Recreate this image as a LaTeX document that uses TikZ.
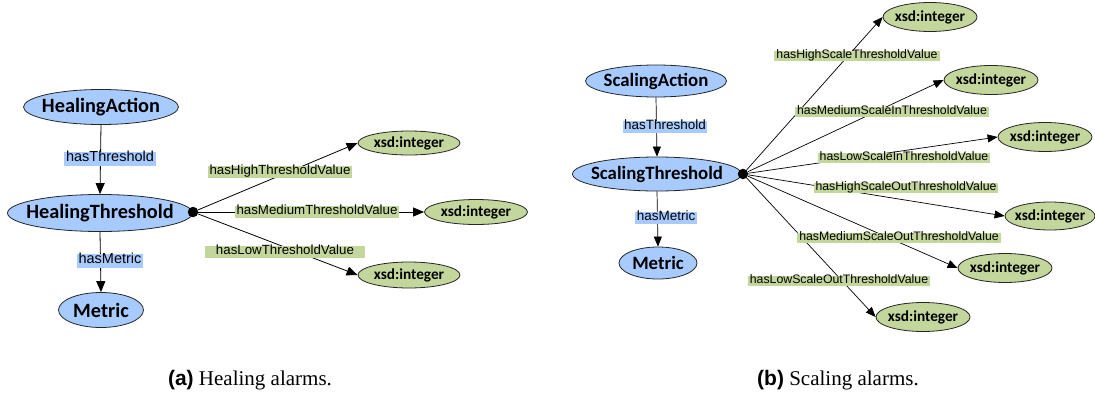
\documentclass[tikz,border=0pt]{standalone}
\usepackage{fontspec}
\setmainfont{Liberation Serif}
\newfontfamily\nfont{Carlito}
\newfontfamily\lfont{Liberation Sans}
\usetikzlibrary{shapes.geometric,arrows.meta}
\definecolor{nodeblue}{RGB}{168,203,255}
\definecolor{litgreen}{RGB}{195,214,155}
\definecolor{lblblue}{RGB}{168,203,255}
\newcommand\zw[1]{\makebox[0pt]{#1}}
\tikzset{
  cls/.style 2 args={ellipse, draw=black!85, line width=0.8pt, fill=nodeblue, inner sep=0pt,
    minimum width=#1, minimum height=#2},
  lit/.style 2 args={ellipse, draw=black!85, line width=0.8pt, fill=litgreen, inner sep=0pt,
    minimum width=#1, minimum height=#2, font=\nfont\bfseries\fontsize{15.3}{15.3}\selectfont},
  bigfont/.style={font=\nfont\bfseries\fontsize{20.3}{20.3}\selectfont},
  midfont/.style={font=\nfont\bfseries\fontsize{18.8}{18.8}\selectfont},
  lblA/.style={fill=lblblue, inner xsep=2pt, inner ysep=2pt, text height=0.72em, text depth=0.2em,
    font=\lfont\fontsize{14.5}{14.5}\selectfont},
  lblAg/.style={fill=litgreen, inner xsep=2pt, inner ysep=1.5pt, text height=0.72em, text depth=0.2em,
    font=\lfont\fontsize{13.3}{13.3}\selectfont},
  lblB/.style={fill=lblblue, inner xsep=1.5pt, inner ysep=1pt, text height=0.72em, text depth=0.2em,
    font=\lfont\fontsize{13.5}{13.5}\selectfont},
  lblBg/.style={fill=litgreen, inner xsep=2pt, inner ysep=0.8pt, text height=0.72em, text depth=0.2em,
    font=\lfont\fontsize{12.3}{12.3}\selectfont},
  blackdot/.style={circle, fill=black, inner sep=0pt, minimum size=10.5pt},
  arA/.style={-{Triangle[length=11pt,width=9pt]}, line width=0.8pt},
  arB/.style={-{Triangle[length=10pt,width=8pt]}, line width=0.7pt},
  captext/.style={font=\fontsize{21}{21}\selectfont}
}
\begin{document}
\begin{tikzpicture}[x=1pt,y=-1pt]
\useasboundingbox (0,0) rectangle (1095,394);
% ---------------- (a) ----------------
\node[cls={155pt}{35pt}, bigfont] (HA) at (101,107) {\zw{HealingAction}};
\node[cls={185pt}{37pt}, bigfont] (HT) at (100,213) {\zw{HealingThreshold}};
\node[cls={85pt}{35pt}, bigfont] (HM) at (101,310) {\zw{Metric}};
\node[blackdot] (hd) at (193,212) {};
\node[lit={102pt}{24pt}] (hx1) at (409,143) {\zw{xsd:integer}};
\node[lit={103pt}{25pt}] (hx2) at (476,212) {\zw{xsd:integer}};
\node[lit={102pt}{26pt}] (hx3) at (409,275) {\zw{xsd:integer}};
\draw[arA] (HA.south) -- (HT.north);
\draw[arA] (HT.south) -- (HM.north);
\draw[arA] (hd) -- (hx1.west);
\draw[arA] (hd) -- (hx2.west);
\draw[arA] (hd) -- (hx3.west);
\node[lblA] (lhT) at (110,159) {hasThreshold};
\node[lblA] (lhM) at (110,261) {hasMetric};
\node[lblAg] (lh1) at (280,172) {hasHighThresholdValue};
\node[lblAg] (lh2) at (317,212) {hasMediumThresholdValue};
\node[lblAg, inner xsep=11pt] (lh3) at (285,252) {hasLowThresholdValue};
% ---------------- (b) ----------------
\node[cls={141pt}{32pt}, midfont] (SA) at (656,81) {\zw{ScalingAction}};
\node[cls={169pt}{34pt}, midfont] (ST) at (657,174) {\zw{ScalingThreshold}};
\node[cls={78pt}{32pt}, midfont] (SM) at (658,263) {\zw{Metric}};
\node[blackdot] (sd) at (743,174) {};
\node[lit={94pt}{29pt}] (sx1) at (930,17) {\zw{xsd:integer}};
\node[lit={94pt}{29pt}] (sx2) at (991,80) {\zw{xsd:integer}};
\node[lit={94pt}{29pt}] (sx3) at (1045,137) {\zw{xsd:integer}};
\node[lit={90pt}{28pt}] (sx4) at (1050,216) {\zw{xsd:integer}};
\node[lit={94pt}{29pt}] (sx5) at (1005,268) {\zw{xsd:integer}};
\node[lit={94pt}{29pt}] (sx6) at (923,317) {\zw{xsd:integer}};
\draw[arB] (SA.south) -- (ST.north);
\draw[arB] (ST.south) -- (SM.north);
\foreach \t in {sx1,sx2,sx3,sx4,sx5,sx6} \draw[arB] (sd) -- (\t.west);
\node[lblB] (lsT) at (665,127) {hasThreshold};
\node[lblB] (lsM) at (666,218) {hasMetric};
\node[lblBg] (ls1) at (857,56) {hasHighScaleThresholdValue};
\node[lblBg] (ls2) at (892,112) {hasMediumScaleInThresholdValue};
\node[lblBg] (ls3) at (904,158) {hasLowScaleInThresholdValue};
\node[lblBg] (ls4) at (906,188) {hasHighScaleOutThresholdValue};
\node[lblBg] (ls5) at (899,238) {hasMediumScaleOutThresholdValue};
\node[lblBg] (ls6) at (839,281) {hasLowScaleOutThresholdValue};
% ---------------- captions ----------------
\node[captext] (capa) at (250,380) {{\lfont\bfseries (a)} Healing alarms.};
\node[captext] (capb) at (838,380) {{\lfont\bfseries (b)} Scaling alarms.};
\end{tikzpicture}
\end{document}
